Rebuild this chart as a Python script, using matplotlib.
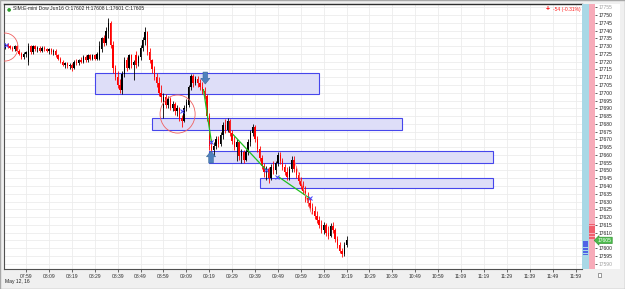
import matplotlib
matplotlib.use("Agg")
import matplotlib.pyplot as plt
from matplotlib.patches import Rectangle, Ellipse, Polygon
from matplotlib.transforms import blended_transform_factory
import numpy as np

plt.rcParams['font.family'] = ['Liberation Sans', 'DejaVu Sans']

# ---------------- data ----------------
title_text = "SIM:E-mini Dow Jun16 O:17602 H:17608 L:17601 C:17605"
change_text = "-54 (-0.31%)"
date_text = "May 12, 16"
last_price = 17605
first_bar = "07:50"   # 1-minute bars

opens = [17729,17731,17730,17729,17728,17730,17727,17725,17723,17725,
         17720,17730,17726,17730,17728,17729,17727,17729,17728,17727,
         17728,17726,17727,17724,17722,17720,17718,17719,17717,17718,
         17716,17720,17719,17721,17720,17723,17721,17724,17722,17724,
         17722,17722,17728,17735,17732,17740,17745,17731,17716,17710,
         17705,17702,17712,17721,17716,17724,17718,17724,17719,17723,
         17729,17734,17739,17726,17721,17715,17710,17706,17700,17690,
         17697,17692,17696,17690,17693,17688,17690,17684,17682,17690,
         17692,17704,17711,17706,17709,17706,17704,17701,17698,17685,
         17666,17663,17666,17670,17667,17673,17679,17676,17682,17674,
         17669,17665,17668,17659,17662,17657,17662,17668,17674,17678,
         17670,17664,17658,17653,17649,17651,17645,17652,17650,17655,
         17660,17656,17652,17649,17646,17651,17657,17651,17647,17643,
         17640,17637,17632,17629,17626,17624,17621,17618,17615,17612,
         17615,17610,17608,17614,17612,17606,17602,17598,17596,17602]
highs = [17732,17732,17731,17730,17731,17731,17728,17726,17726,17727,
         17732,17731,17731,17731,17730,17730,17730,17730,17729,17729,
         17729,17728,17728,17725,17723,17721,17720,17720,17719,17719,
         17721,17722,17722,17723,17724,17724,17725,17725,17725,17725,
         17726,17733,17736,17737,17742,17748,17746,17733,17718,17714,
         17709,17714,17723,17723,17725,17725,17721,17727,17724,17731,
         17736,17742,17740,17729,17722,17717,17713,17710,17705,17700,
         17699,17698,17697,17695,17694,17692,17691,17686,17692,17696,
         17705,17712,17712,17711,17711,17709,17707,17704,17699,17687,
         17670,17668,17672,17672,17675,17681,17683,17684,17683,17676,
         17672,17670,17669,17664,17663,17664,17670,17676,17680,17679,
         17672,17666,17660,17655,17653,17652,17654,17656,17656,17662,
         17662,17658,17654,17652,17653,17659,17659,17653,17649,17646,
         17643,17640,17636,17632,17629,17627,17624,17621,17618,17617,
         17616,17614,17616,17617,17613,17608,17604,17600,17604,17608]
lows = [17728,17729,17728,17727,17727,17727,17724,17722,17722,17723,
        17718,17725,17725,17727,17726,17726,17726,17727,17726,17725,
        17725,17724,17723,17721,17719,17717,17716,17716,17715,17714,
        17715,17718,17718,17719,17719,17720,17720,17721,17721,17721,
        17721,17721,17726,17730,17731,17735,17729,17713,17708,17703,
        17700,17699,17710,17714,17715,17716,17708,17716,17717,17721,
        17727,17731,17724,17719,17713,17708,17704,17698,17694,17684,
        17690,17690,17689,17688,17686,17685,17682,17678,17681,17688,
        17691,17702,17704,17705,17704,17702,17699,17696,17682,17663,
        17660,17659,17664,17665,17666,17670,17674,17675,17672,17667,
        17663,17656,17657,17655,17655,17656,17660,17666,17672,17668,
        17662,17656,17651,17646,17644,17642,17644,17648,17648,17653,
        17654,17650,17647,17644,17644,17649,17649,17645,17641,17638,
        17635,17630,17627,17624,17622,17619,17616,17613,17610,17609,
        17608,17606,17607,17610,17604,17600,17597,17594,17595,17601]
closes = [17731,17730,17729,17728,17730,17727,17725,17723,17725,17726,
          17730,17726,17730,17728,17729,17727,17729,17728,17727,17728,
          17726,17727,17724,17722,17720,17718,17719,17717,17718,17716,
          17720,17719,17721,17720,17723,17721,17724,17722,17724,17722,
          17725,17730,17735,17732,17740,17745,17731,17716,17710,17705,
          17702,17712,17721,17716,17724,17718,17720,17718,17723,17729,
          17734,17739,17726,17721,17715,17710,17706,17700,17697,17697,
          17692,17696,17690,17693,17688,17690,17684,17682,17690,17694,
          17704,17711,17706,17709,17706,17704,17701,17698,17685,17666,
          17663,17666,17670,17667,17673,17679,17676,17682,17674,17669,
          17665,17668,17659,17662,17657,17662,17668,17674,17678,17670,
          17664,17658,17653,17649,17651,17645,17652,17650,17655,17660,
          17656,17652,17649,17646,17651,17657,17651,17647,17643,17640,
          17637,17632,17629,17626,17624,17621,17618,17615,17612,17615,
          17610,17608,17614,17612,17606,17602,17598,17596,17602,17605]

time_labels = ["07:59", "08:09", "08:19", "08:29", "08:39", "08:49", "08:59",
               "09:09", "09:19", "09:29", "09:39", "09:49", "09:59", "10:09",
               "10:19", "10:29", "10:39", "10:49", "10:59", "11:09", "11:19",
               "11:29", "11:39", "11:49", "11:59"]
price_levels = list(range(17590, 17760, 5))

# drawn objects (bar index / price)
zone_start = [39, 64, 89, 111]
zone_end = [137, 173, 213, 213]
zone_top = [17713, 17684, 17662.5, 17645]
zone_bottom = [17699, 17676, 17655, 17639]

trend_x0 = [86.5, 99.5, 119.2]
trend_y0 = [17702, 17673, 17646]
trend_x1 = [90.0, 114.1, 133.0]
trend_y1 = [17668, 17650, 17632]

pink_x = [126.5, 133.7]
pink_y = [17655, 17622]

mark_x = [0.3, 77.1, 90.0, 113.7, 118.8, 133.0]
mark_y = [17731, 17688, 17668, 17650, 17646, 17632]

ellipse_x = [-0.2, 75.2]
ellipse_y = [17729.4, 17686.3]
ellipse_w = [11.4, 15.3]
ellipse_h = [18, 24.5]

signal_bar = [87.3, 89.8]
signal_dir = [-1, 1]
signal_price = [17705.6, 17662.5]

bid_prices = list(range(17596, 17605))
bid_sizes = [1, 1, 1, 1, 1, 1, 1, 1, 1]
ask_prices = list(range(17606, 17616))
ask_sizes = [1, 1, 1, 1, 1, 1, 1, 1, 1, 1]

# ---------------- figure ----------------
W, H = 625, 289
fig = plt.figure(figsize=(W / 100, H / 100), dpi=100)
fig.patch.set_facecolor('#f0f0f0')


def fx(px):
    return px / W


def fy(py):
    return 1 - py / H


fig.add_artist(Rectangle((fx(595), fy(269)), fx(620) - fx(595), fy(4) - fy(269),
                         transform=fig.transFigure, facecolor='white',
                         edgecolor='none', zorder=-1))

ax = fig.add_axes([fx(4), fy(269), fx(582) - fx(4), fy(4) - fy(269)])
ax.set_facecolor('white')
ax.set_xlim(-0.61, 251.8)
ax.set_ylim(17586.6, 17757.1)
ax.set_axisbelow(True)

h0, m0 = map(int, first_bar.split(':'))
tick_pos = [(int(t[:2]) * 60 + int(t[3:])) - (h0 * 60 + m0) for t in time_labels]
ax.set_xticks(tick_pos)
ax.set_xticklabels(time_labels)
ax.set_xticks(np.arange(0, 252, 1), minor=True)
ax.tick_params(axis='x', which='major', length=2.2, width=0.5, pad=1.2,
               labelsize=3.6, colors='#303030')
ax.tick_params(axis='x', which='minor', length=1.0, width=0.35, colors='#505050')
ax.set_yticks(price_levels)
ax.tick_params(axis='y', left=False, labelleft=False)
ax.grid(True, which='major', color='#ececec', lw=0.6)

ax.spines['right'].set_visible(False)
ax.spines['top'].set_color('#303030')
ax.spines['top'].set_linewidth(1.0)
ax.spines['left'].set_color('#505050')
ax.spines['left'].set_linewidth(0.8)
ax.spines['bottom'].set_color('#505050')
ax.spines['bottom'].set_linewidth(0.8)

for s, e, t, b in zip(zone_start, zone_end, zone_top, zone_bottom):
    ax.add_patch(Rectangle((s, b), e - s, t - b, facecolor='#dedef8',
                           edgecolor='#4646ec', lw=0.8, zorder=2))

o = np.array(opens); hh = np.array(highs); ll = np.array(lows); c = np.array(closes)
idx = np.arange(len(o))
cols = np.where(c >= o, '#000000', '#ff0000')
ax.vlines(idx, ll, hh, colors=cols, lw=0.6, zorder=3)
body_b = np.minimum(o, c)
body_h = np.maximum(np.abs(c - o), 0.5)
ax.bar(idx, body_h, bottom=body_b, width=0.6, color=cols, lw=0, zorder=3)

for x0, y0, x1, y1 in zip(trend_x0, trend_y0, trend_x1, trend_y1):
    ax.plot([x0, x1], [y0, y1], color='#1fbf1f', lw=0.9, zorder=4)
ax.plot(pink_x, pink_y, color='#f08a8a', lw=0.5, zorder=4)

for ex, ey, ew, eh in zip(ellipse_x, ellipse_y, ellipse_w, ellipse_h):
    ax.add_patch(Ellipse((ex, ey), ew, eh, fill=False, ec='#f06060', lw=0.6,
                         zorder=4))

ax.plot(mark_x, mark_y, 'x', color='#4040ff', ms=2.5, mew=0.7, zorder=5)

hw, sw, hl, sl = 2.0, 1.0, 3.7, 4.0
for bx, d, tip in zip(signal_bar, signal_dir, signal_price):
    base = tip - d * hl
    end = base - d * sl
    pts = [(bx, tip), (bx - hw, base), (bx - sw, base), (bx - sw, end),
           (bx + sw, end), (bx + sw, base), (bx + hw, base)]
    ax.add_patch(Polygon(pts, closed=True, fc='#4f81bd', ec='#3a6a9a', lw=0.4,
                         zorder=6))

ax2 = fig.add_axes([fx(582), fy(269), fx(595) - fx(582), fy(4) - fy(269)])
ax2.set_xlim(0, 2)
ax2.set_ylim(ax.get_ylim())
ax2.axvspan(0, 1, color='#a9d8e6', lw=0)
ax2.axvspan(1, 2, color='#f7abb9', lw=0)
ax2.barh(bid_prices, [v * 0.8 for v in bid_sizes], left=0.1, height=0.75,
         color='#5064e6', lw=0)
ax2.barh(ask_prices, [v * 0.95 for v in ask_sizes], left=1.0, height=0.75,
         color='#f0606e', lw=0)
ax2.set_xlim(0, 2)
for s in ax2.spines.values():
    s.set_visible(False)
ax2.set_xticks([])
ax2.yaxis.tick_right()
ax2.set_yticks(price_levels)
ax2.set_yticklabels([('' if p == last_price else str(p)) for p in price_levels])
ax2.tick_params(axis='y', length=1.6, width=0.5, pad=0.8, labelsize=3.6,
                colors='#202020')
for lab, p in zip(ax2.get_yticklabels(), price_levels):
    if p in (price_levels[0], price_levels[-1]):
        lab.set_color('#a0a0a0')

tr = blended_transform_factory(ax2.transAxes, ax2.transData)
ax2.text(1.2, last_price, str(last_price), transform=tr, fontsize=3.6,
         color='white', va='center', ha='left', zorder=10,
         bbox=dict(boxstyle='larrow,pad=0.15', fc='#4cbb4c', ec='#2e8b2e', lw=0.4))

fig.text(fx(8.5), fy(9), '\u25CF', fontsize=3.5, color='#2e9e2e', ha='center',
         va='center', family=['DejaVu Sans'])
fig.text(fx(13), fy(9), title_text, fontsize=3.6, color='#202020', va='center')
fig.text(fx(548), fy(9), '+', fontsize=5, fontweight='bold', color='#ff0000',
         ha='center', va='center')
fig.text(fx(581), fy(9), change_text, fontsize=3.6, color='#ff2020', ha='right',
         va='center')
fig.text(fx(5), fy(282), date_text, fontsize=3.6, color='#202020', va='center')
fig.add_artist(Rectangle((fx(597.5), fy(276.5)), fx(3.5), fy(0) - fy(3.5),
                         transform=fig.transFigure, fc='white', ec='#505050',
                         lw=0.4))
fig.add_artist(Rectangle((0, 0), 1, 1, transform=fig.transFigure, fill=False,
                         ec='#a8a8a8', lw=1.0))

fig.savefig('out.png', dpi=100, facecolor=fig.get_facecolor())
